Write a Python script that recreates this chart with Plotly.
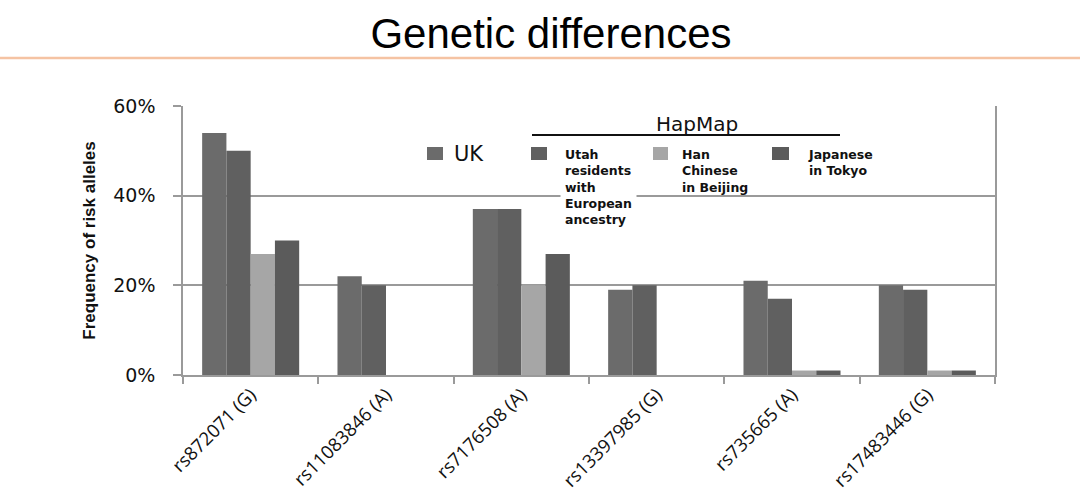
import plotly.graph_objects as go

categories = ["rs872071 (G)", "rs11083846 (A)", "rs7176508 (A)",
              "rs13397985 (G)", "rs735665 (A)", "rs17483446 (G)"]
uk = [54, 22, 37, 19, 21, 20]
utah = [50, 20, 37, 20, 17, 19]
han = [27, None, 20, None, 1, 1]
japan = [30, None, 27, None, 1, 1]
y_ticks = [0, 20, 40, 60]
y_tick_labels = ["0%", "20%", "40%", "60%"]

series_names = ["UK", "Utah residents with European ancestry",
                "Han Chinese in Beijing", "Japanese in Tokyo"]
series_values = [uk, utah, han, japan]
colors = ["#6b6b6b", "#606060", "#a6a6a6", "#5b5b5b"]

W, H = 1080, 503
L, R, T, B = 183, 85, 106, 128
PW, PH = W - L - R, H - T - B


def px(x):
    return (x - L) / PW


def py(y):
    return (H - B - y) / PH


fig = go.Figure()
for name, vals, col in zip(series_names, series_values, colors):
    fig.add_trace(go.Bar(x=categories, y=vals, name=name,
                         marker=dict(color=col, line=dict(width=0)),
                         showlegend=False))

fig.update_layout(
    width=W, height=H,
    margin=dict(l=L, r=R, t=T, b=B, autoexpand=False),
    paper_bgcolor="white", plot_bgcolor="white",
    barmode="group", bargap=0.283, bargroupgap=0,
    title=dict(text="Genetic differences", x=551 / W, xanchor="center",
               y=1 - 33 / H, yanchor="middle", yref="container", xref="container",
               font=dict(family="Liberation Sans, Arial", size=42, color="#000")),
    font=dict(family="DejaVu Sans", color="#111"),
)

fig.update_xaxes(
    type="category", tickson="boundaries", ticks="outside", ticklen=7,
    tickcolor="#9a9a9a", tickwidth=1.5,
    showline=True, linecolor="#9a9a9a", linewidth=1.5,
    showgrid=False, tickangle=-45,
    tickfont=dict(family="Open Sans, Liberation Sans", size=18.5, color="#111"),
    range=[-0.5, 5.5], mirror=False,
)
fig.update_yaxes(
    range=[0, 60], tickvals=y_ticks, ticktext=y_tick_labels,
    ticks="outside", ticklen=8, tickcolor="#9a9a9a", tickwidth=1.5,
    showgrid=True, gridcolor="#9a9a9a", gridwidth=1.5,
    showline=True, linecolor="#9a9a9a", linewidth=1.5, mirror=True,
    zeroline=False, ticklabelstandoff=14,
    tickfont=dict(family="DejaVu Sans", size=19, color="#111"),
    title=dict(text="<b>Frequency of risk alleles</b>", standoff=13,
               font=dict(family="Liberation Sans Narrow, Liberation Sans", size=17,
                         color="#111")),
)

shapes = []
# orange separator under title
shapes.append(dict(type="line", xref="paper", yref="paper",
                   x0=px(0), x1=px(W), y0=py(58), y1=py(58),
                   line=dict(color="#f5c3a3", width=2.5)))
# HapMap line
shapes.append(dict(type="line", xref="paper", yref="paper",
                   x0=px(532), x1=px(840), y0=py(135), y1=py(135),
                   line=dict(color="#111", width=2)))
# legend squares
for (x0, x1), col in zip([(427, 443), (531, 547), (653, 668), (772, 789)], colors):
    shapes.append(dict(type="rect", xref="paper", yref="paper",
                       x0=px(x0), x1=px(x1), y0=py(160), y1=py(147),
                       fillcolor=col, line=dict(width=0)))
fig.update_layout(shapes=shapes)

ann = []
ann.append(dict(text="UK", x=px(452), y=py(154), xref="paper", yref="paper",
                xanchor="left", yanchor="middle", showarrow=False,
                font=dict(family="DejaVu Sans", size=21, color="#111")))
ann.append(dict(text="HapMap", x=px(697), y=py(124), xref="paper", yref="paper",
                xanchor="center", yanchor="middle", showarrow=False,
                font=dict(family="DejaVu Sans", size=20, color="#111")))
leg_texts = [
    (560, "<b>Utah<br>residents<br>with<br>European<br>ancestry</b>", "white"),
    (677, "<b>Han<br>Chinese<br>in Beijing</b>", None),
    (803, "<b>Japanese<br>in Tokyo</b>", None),
]
for x, t, bg in leg_texts:
    a = dict(text=t, x=px(x), y=py(142), xref="paper", yref="paper",
             xanchor="left", yanchor="top", align="left", showarrow=False,
             font=dict(family="DejaVu Sans", size=12.5, color="#111"),
             borderpad=4)
    if bg:
        a["bgcolor"] = bg
    ann.append(a)
fig.update_layout(annotations=ann)

fig.write_html("out.html", config={"displayModeBar": False},
               post_script="document.body.style.margin='0';document.body.style.padding='0';")
